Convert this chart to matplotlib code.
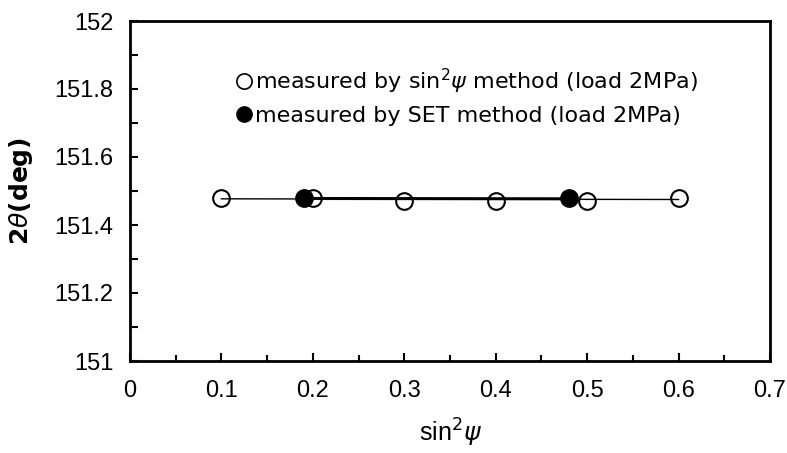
import matplotlib
matplotlib.use("Agg")
import matplotlib.pyplot as plt
from matplotlib.ticker import MultipleLocator, FuncFormatter
from matplotlib.lines import Line2D

plt.rcParams['font.family'] = ['Liberation Sans', 'DejaVu Sans']
plt.rcParams['mathtext.fontset'] = 'dejavusans'

# data
sin2psi_open = [0.1, 0.2, 0.3, 0.4, 0.5, 0.6]
two_theta_open = [151.48, 151.48, 151.47, 151.47, 151.47, 151.48]
sin2psi_set = [0.19, 0.48]
two_theta_set = [151.48, 151.48]
fit_open_x = [0.1, 0.6]
fit_open_y = [151.477, 151.475]
fit_set_x = [0.19, 0.48]
fit_set_y = [151.478, 151.477]

fig = plt.figure(figsize=(7.87, 4.53), dpi=100)
ax = fig.add_axes([130/787, 1 - 361/453, 640/787, 340/453])

ax.plot(fit_open_x, fit_open_y, color='black', lw=1.0, zorder=2)
ax.plot(fit_set_x, fit_set_y, color='black', lw=2.2, zorder=2)
ax.plot(sin2psi_open, two_theta_open, 'o', ms=12, mfc='none', mec='black', mew=1.5, zorder=3)
ax.plot(sin2psi_set, two_theta_set, 'o', ms=12, mfc='black', mec='black', mew=1.5, zorder=4)

ax.set_xlim(0, 0.7)
ax.set_ylim(151, 152)
ax.xaxis.set_major_locator(MultipleLocator(0.1))
ax.xaxis.set_minor_locator(MultipleLocator(0.05))
ax.yaxis.set_major_locator(MultipleLocator(0.2))
ax.yaxis.set_minor_locator(MultipleLocator(0.1))
ax.xaxis.set_major_formatter(FuncFormatter(lambda v, p: f"{v:g}"))
ax.yaxis.set_major_formatter(FuncFormatter(lambda v, p: f"{v:g}"))
ax.tick_params(axis='both', which='both', direction='in', top=False, right=False,
               width=1.5, labelsize=17)
ax.tick_params(axis='x', which='major', length=6, pad=14)
ax.tick_params(axis='x', which='minor', length=4)
ax.tick_params(axis='y', which='both', length=6, pad=12)
for s in ax.spines.values():
    s.set_linewidth(2)

ax.set_xlabel(r'sin$^2\psi$', fontsize=18, labelpad=10)
ax.set_ylabel(r'2$\theta$(deg)', fontsize=18, fontweight='bold', labelpad=14,
              family=['DejaVu Sans'])

handles = [Line2D([], [], ls='none', marker='o', ms=11, mfc='none', mec='black', mew=1.2),
           Line2D([], [], ls='none', marker='o', ms=11, mfc='black', mec='black')]
labels = [r'measured by sin$^2\psi$ method (load 2MPa)',
          'measured by SET method (load 2MPa)']
ax.legend(handles, labels, loc='upper left', bbox_to_anchor=(0.13, 0.925), frameon=False,
          handletextpad=0.0, handlelength=1.0, labelspacing=0.45,
          prop={'family': ['DejaVu Sans'], 'size': 16})

fig.savefig('out.png', dpi=100)
